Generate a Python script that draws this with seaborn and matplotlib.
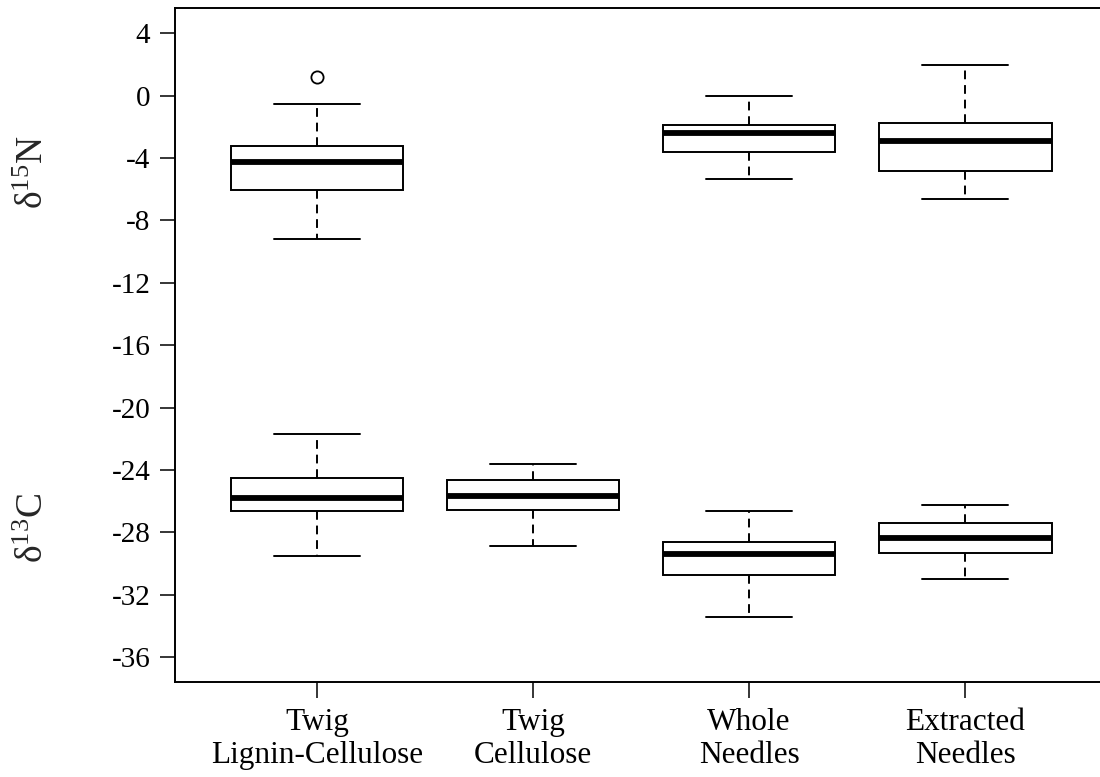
import matplotlib
matplotlib.use("Agg")
import matplotlib.pyplot as plt
import matplotlib.transforms as mtransforms
import numpy as np
import pandas as pd
import seaborn as sns

# Sample types on the x axis
groups = ["Twig\nLignin-Cellulose", "Twig\nCellulose", "Whole\nNeedles", "Extracted\nNeedles"]

# delta-15N five-number summaries (lower whisker, Q1, median, Q3, upper whisker)
n_groups = [groups[0], groups[2], groups[3]]
n_low = [-9.21, -5.34, -6.60]
n_q1 = [-6.03, -3.59, -4.85]
n_med = [-4.25, -2.41, -2.90]
n_q3 = [-3.21, -1.86, -1.73]
n_high = [-0.55, -0.02, 1.95]
n_outlier_groups = [groups[0]]
n_outliers = [1.22]

# delta-13C five-number summaries
c_groups = groups
c_low = [-29.49, -28.88, -33.40, -30.98]
c_q1 = [-26.64, -26.54, -30.71, -29.31]
c_med = [-25.81, -25.64, -29.36, -28.35]
c_q3 = [-24.49, -24.63, -28.63, -27.37]
c_high = [-21.69, -23.61, -26.62, -26.24]

yticks = [4, 0, -4, -8, -12, -16, -20, -24, -28, -32, -36]


def summary_frame(names, low, q1, med, q3, high):
    rows = []
    for name, vals in zip(names, zip(low, q1, med, q3, high)):
        for v in vals:
            rows.append({"group": name, "value": v})
    return pd.DataFrame(rows)


df_n = summary_frame(n_groups, n_low, n_q1, n_med, n_q3, n_high)
df_c = summary_frame(c_groups, c_low, c_q1, c_med, c_q3, c_high)

sns.set_style("ticks")
plt.rcParams["font.family"] = ["Liberation Serif", "DejaVu Serif"]
plt.rcParams["mathtext.fontset"] = "custom"
plt.rcParams["mathtext.rm"] = "Liberation Serif"
plt.rcParams["mathtext.it"] = "Liberation Serif:italic"

fig = plt.figure(figsize=(11, 7.77), dpi=100)
ax = fig.add_axes([0.1591, 0.1227, 0.8473, 0.8667])

lw = 1.4
box_kw = dict(
    order=groups, ax=ax, width=0.8, color="white", linecolor="black",
    linewidth=lw, showfliers=False, whis=1.5,
    whiskerprops=dict(linestyle=(0, (4.5, 3)), linewidth=lw, color="black"),
    capprops=dict(linewidth=lw, color="black"),
    medianprops=dict(linewidth=4.2, color="black", solid_capstyle="butt"),
    boxprops=dict(linewidth=lw, edgecolor="black", facecolor="white"),
)
sns.boxplot(data=df_n, x="group", y="value", **box_kw)
sns.boxplot(data=df_c, x="group", y="value", **box_kw)

# outlying point
ox = [groups.index(g) for g in n_outlier_groups]
ax.plot(ox, n_outliers, linestyle="none", marker="o", markersize=8.8,
        markerfacecolor="white", markeredgecolor="black", markeredgewidth=1.3,
        zorder=5)

ax.set_xlim(-0.657, 3.657)
ax.set_ylim(-37.56, 5.60)
ax.set_yticks(yticks)
ax.set_yticklabels([str(t) for t in yticks])
ax.set_xlabel("")
ax.set_ylabel("")

for s in ax.spines.values():
    s.set_linewidth(lw)
    s.set_color("black")

ax.tick_params(axis="y", length=10.8, width=1.1, pad=7, labelsize=21, colors="black")
ax.tick_params(axis="x", length=11.5, width=1.1, pad=7.5, labelsize=22.5, colors="black")
for lab in ax.get_xticklabels():
    lab.set_linespacing(1.2)

trans = mtransforms.blended_transform_factory(ax.transAxes, ax.transData)
ax.text(-0.152, -4.9, "δ$^{15}$N", transform=trans, rotation=90,
        ha="center", va="center", fontsize=27)
ax.text(-0.152, -27.7, "δ$^{13}$C", transform=trans, rotation=90,
        ha="center", va="center", fontsize=27)

fig.savefig("out.png", dpi=100, facecolor="white")
